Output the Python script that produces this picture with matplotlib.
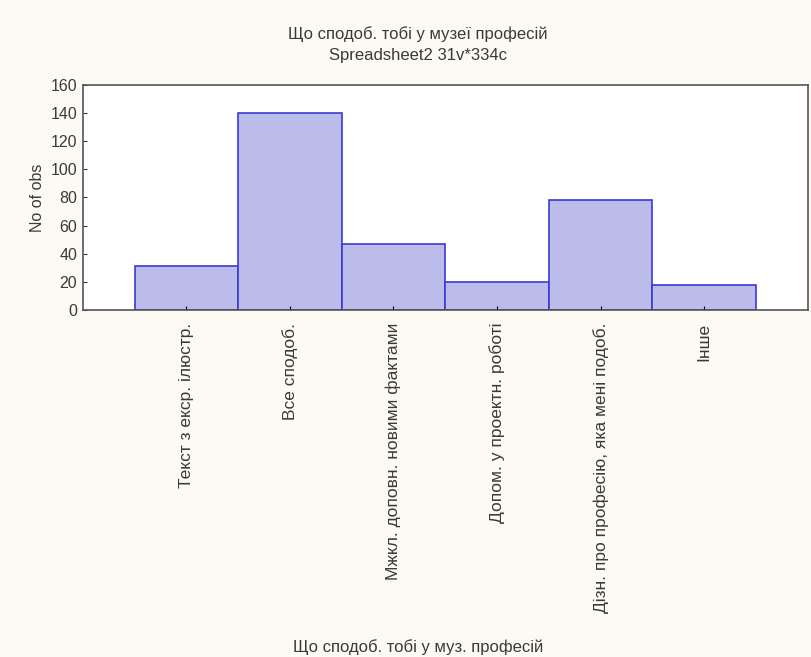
import matplotlib.pyplot as plt

plt.rcParams['font.family'] = ['Liberation Sans', 'DejaVu Sans']

categories = ["Текст з екср. ілюстр.", "Все сподоб.", "Мжкл. доповн. новими фактами",
              "Допом. у проектн. роботі", "Дізн. про професію, яка мені подоб.", "Інше"]
counts = [31, 140, 47, 20, 78, 18]

fig = plt.figure(figsize=(8.11, 6.57), dpi=100, facecolor='#fdf9f3')
ax = fig.add_axes([0.102, 0.528, 0.894, 0.343])
ax.set_facecolor('white')

x = list(range(len(categories)))
ax.bar(x, counts, width=1.0, color='#bcbcea', edgecolor='#3a3ad8', linewidth=1.2)

ax.set_xlim(-1, 6)
ax.set_ylim(0, 160)
ax.set_yticks(range(0, 161, 20))
ax.set_xticks(x)
ax.set_xticklabels(categories, rotation=90, fontsize=12.5, color='#3a3a3a')
ax.tick_params(axis='y', labelsize=11.5, colors='#3a3a3a', direction='in', length=3, pad=4)
ax.tick_params(axis='x', direction='in', length=3, pad=9)
for s in ax.spines.values():
    s.set_color('#555555')
    s.set_linewidth(1.2)

ax.set_ylabel("No of obs", fontsize=11.5, color='#3a3a3a', labelpad=4)
fig.text(0.515, 0.940, "Що сподоб. тобі у музеї професій", ha='center', fontsize=12, color='#3a3a3a')
fig.text(0.515, 0.908, "Spreadsheet2 31v*334c", ha='center', fontsize=12, color='#3a3a3a')
fig.text(0.515, 0.008, "Що сподоб. тобі у муз. професій", ha='center', fontsize=12, color='#3a3a3a')

fig.savefig("out.png", dpi=100, facecolor=fig.get_facecolor())
